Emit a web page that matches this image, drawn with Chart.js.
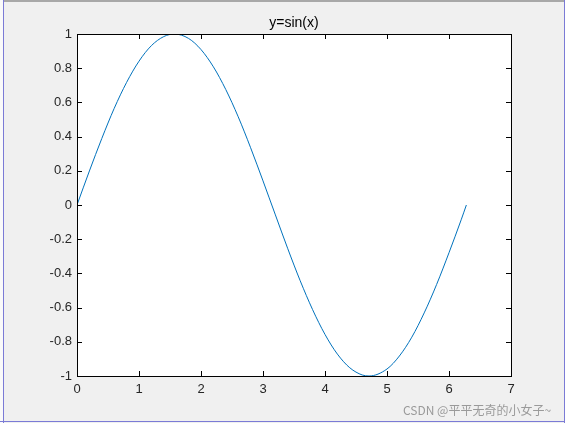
<!DOCTYPE html>
<html>
<head>
<meta charset="utf-8">
<script src="https://cdn.jsdelivr.net/npm/chart.js@4"></script>
<style>
  html, body { margin: 0; padding: 0; background: #f0f0f0; overflow: hidden; }
  #wrap { position: relative; width: 565px; height: 423px; }
  canvas { position: absolute; left: 0; top: 0; }
  .edge { position: absolute; }
  #mark {
    position: absolute; left: 403px; top: 401px;
    font: 12px "Noto Sans CJK SC", "Liberation Sans", sans-serif;
    color: #9a9a9a; white-space: nowrap;
  }
</style>
</head>
<body>
<div id="wrap">
  <canvas id="plot" width="565" height="423"></canvas>
  <div class="edge" style="left:0;top:0;width:565px;height:2px;background:#a8a8a8"></div>
  <div class="edge" style="left:0;top:0;width:3px;height:423px;background:#fafafa"></div>
  <div class="edge" style="left:3px;top:0;width:1px;height:423px;background:#7b7bd6"></div>
  <div class="edge" style="left:0;top:421px;width:565px;height:1px;background:#7b7bd6"></div>
  <div class="edge" style="left:564px;top:0;width:1px;height:423px;background:#7b7bd6"></div>
  <div id="mark">CSDN @平平无奇的小女子~</div>
</div>
<script>
// y=sin(x), values
const xValues = [0, 0.2, 0.4, 0.6, 0.8, 1.0, 1.2, 1.4, 1.57, 1.8, 2.0, 2.2, 2.4, 2.6, 2.8, 3.0,
                 3.2, 3.4, 3.6, 3.8, 4.0, 4.2, 4.4, 4.6, 4.71, 5.0, 5.2, 5.4, 5.6, 5.8, 6.0, 6.2, 6.28];
const yValues = [0, 0.199, 0.389, 0.565, 0.717, 0.841, 0.932, 0.985, 1.00, 0.974, 0.909, 0.808, 0.675, 0.516, 0.335, 0.141,
                 -0.058, -0.256, -0.443, -0.612, -0.757, -0.872, -0.952, -0.994, -1.00, -0.959, -0.883, -0.773, -0.631, -0.465, -0.279, -0.083, 0];

const xTicks = [0, 1, 2, 3, 4, 5, 6, 7];
const yTicks = [-1, -0.8, -0.6, -0.4, -0.2, 0, 0.2, 0.4, 0.6, 0.8, 1];

const titleText = 'y=sin(x)';
const lineColor = '#0072BD';
const fontFamily = '"Liberation Sans", Arial, sans-serif';

// white plot area, title, and MATLAB style box with inward ticks
const axesBox = {
    id: 'axesBox',
    beforeDraw(chart) {
        const { ctx, chartArea: a } = chart;
        ctx.save();
        ctx.fillStyle = '#ffffff';
        ctx.fillRect(a.left, a.top, a.right - a.left, a.bottom - a.top);
        ctx.fillStyle = '#000000';
        ctx.font = '14px ' + fontFamily;
        ctx.textAlign = 'center';
        ctx.textBaseline = 'middle';
        ctx.fillText(titleText, (a.left + a.right) / 2, a.top - 11);
        ctx.restore();
    },
    afterDraw(chart) {
        const { ctx, chartArea: a, scales } = chart;
        const len = 5;
        ctx.save();
        ctx.strokeStyle = '#000000';
        ctx.lineWidth = 1;
        ctx.beginPath();
        scales.x.ticks.forEach(t => {
            const px = Math.round(scales.x.getPixelForValue(t.value)) + 0.5;
            ctx.moveTo(px, a.bottom); ctx.lineTo(px, a.bottom - len);
            ctx.moveTo(px, a.top); ctx.lineTo(px, a.top + len);
        });
        scales.y.ticks.forEach(t => {
            const py = Math.round(scales.y.getPixelForValue(t.value)) + 0.5;
            ctx.moveTo(a.left, py); ctx.lineTo(a.left + len, py);
            ctx.moveTo(a.right, py); ctx.lineTo(a.right - len, py);
        });
        ctx.stroke();
        ctx.strokeRect(Math.round(a.left) + 0.5, Math.round(a.top) + 0.5,
                       Math.round(a.right - a.left), Math.round(a.bottom - a.top));
        ctx.restore();
    }
};

const fmt = v => String(Number(v.toFixed(1)));

new Chart(document.getElementById('plot'), {
    type: 'line',
    data: {
        datasets: [{
            data: xValues.map((x, i) => ({ x: x, y: yValues[i] })),
            borderColor: lineColor,
            borderWidth: 1,
            pointRadius: 0,
            cubicInterpolationMode: 'monotone',
            fill: false
        }]
    },
    options: {
        responsive: false,
        animation: false,
        devicePixelRatio: 1,
        layout: { padding: { left: 0, right: 54, top: 34, bottom: 0 } },
        plugins: {
            legend: { display: false },
            tooltip: { enabled: false },
            title: { display: false }
        },
        scales: {
            x: {
                type: 'linear',
                min: 0, max: 7,
                afterBuildTicks: s => { s.ticks = xTicks.map(v => ({ value: v })); },
                afterFit: s => { s.height = 47; },
                grid: { display: false, drawTicks: false },
                border: { display: false },
                ticks: { color: '#262626', padding: 6, maxRotation: 0, callback: fmt,
                         font: { family: fontFamily, size: 13 } }
            },
            y: {
                type: 'linear',
                min: -1, max: 1,
                afterBuildTicks: s => { s.ticks = yTicks.map(v => ({ value: v })); },
                afterFit: s => { s.width = 77; },
                grid: { display: false, drawTicks: false },
                border: { display: false },
                ticks: { color: '#262626', padding: 5, callback: fmt,
                         font: { family: fontFamily, size: 13 } }
            }
        }
    },
    plugins: [axesBox]
});
</script>
</body>
</html>
